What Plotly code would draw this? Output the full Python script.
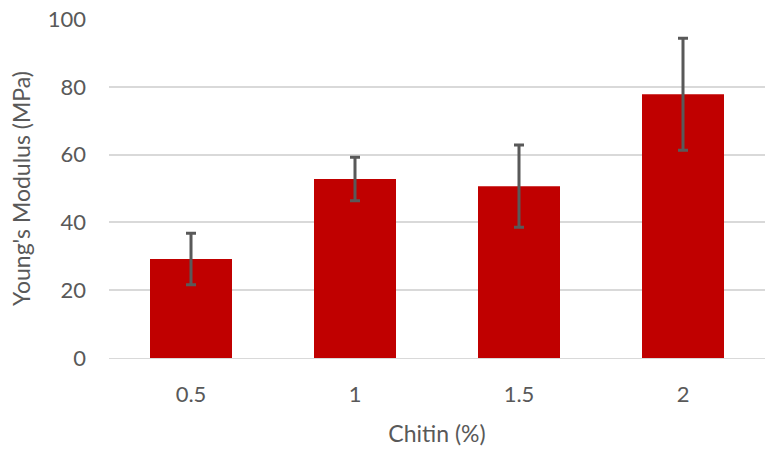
import plotly.graph_objects as go

categories = ["0.5", "1", "1.5", "2"]
modulus = [29.2, 52.8, 50.7, 77.8]
error = [7.6, 6.4, 12.1, 16.5]
y_ticks = [0, 20, 40, 60, 80, 100]

FONT = "Lato"
GRAY = "#595959"
SIZE = 22

fig = go.Figure(go.Bar(
    x=categories, y=modulus,
    marker=dict(color="#C00000", line=dict(width=0)),
    width=0.5,
    error_y=dict(type="data", array=error, visible=True, color=GRAY, thickness=3, width=5),
))

fig.update_layout(
    width=770, height=457,
    margin=dict(l=109, r=5, t=15, b=99),
    paper_bgcolor="white", plot_bgcolor="white",
    font=dict(family=FONT, size=SIZE, color=GRAY),
    showlegend=False,
    bargap=0.5,
)
fig.update_xaxes(
    title=dict(text="Chitin (%)", font=dict(size=23, color=GRAY), standoff=19),
    showgrid=False, showline=True, linecolor="#D9D9D9", linewidth=1,
    tickfont=dict(size=SIZE, color=GRAY), ticklabelstandoff=17,
)
fig.update_yaxes(
    title=dict(text="Young's Modulus (MPa)", font=dict(size=23, color=GRAY), standoff=10),
    range=[0, 100], tickvals=y_ticks,
    showgrid=True, gridcolor="#D9D9D9", gridwidth=1.5,
    zeroline=False, showline=False,
    tickfont=dict(size=SIZE, color=GRAY), ticklabelstandoff=22,
)

fig.write_html("out.html")
